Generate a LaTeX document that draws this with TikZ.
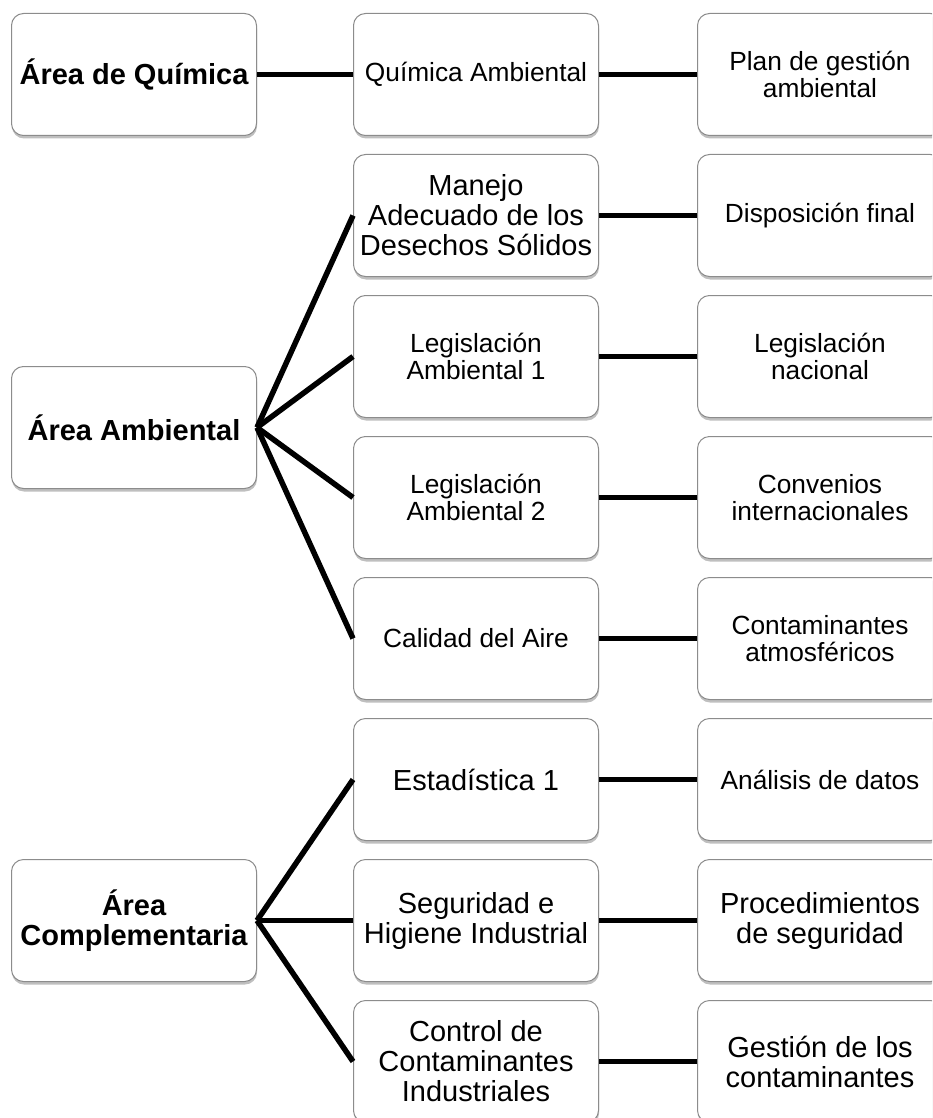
\documentclass[tikz,border=0pt]{standalone}
\usepackage{fontspec}
\setmainfont{Liberation Sans}
\usetikzlibrary{shadows}
\definecolor{boxline}{RGB}{140,140,140}
\newcommand\txtsmall{\fontsize{26.3}{27}\selectfont}
\newcommand\txtbig{\fontsize{29}{30}\selectfont}
\newcommand\txtbold{\fontsize{29}{30}\selectfont\bfseries}
\begin{document}
\begin{tikzpicture}[x=1pt,y=-1pt,
  box/.style={draw=boxline, line width=1pt, fill=white, rounded corners=12pt,
    minimum width=245pt, minimum height=122pt, anchor=north west,
    align=center, inner sep=0pt,
    drop shadow={shadow xshift=0.5pt, shadow yshift=-3pt, fill=black, opacity=0.25}},
  small/.style={box, font=\txtsmall},
  big/.style={box, font=\txtbig},
  head/.style={box, font=\txtbold},
  conn/.style={line width=5.5pt, black}]
\useasboundingbox (0,0) rectangle (932,1118);
\begin{scope}
\clip (0,0) rectangle (932,1118);

% left column: areas
\node[head] (q0) at (11,13)  {Área de Química};
\node[head] (a0) at (11,366) {Área Ambiental};
\node[head] (c0) at (11,859) {Área\\Complementaria};

% middle column: courses
\node[small] (q1) at (353,13)   {Química Ambiental};
\node[big]   (a1) at (353,154)  {Manejo\\Adecuado de los\\Desechos Sólidos};
\node[small] (a2) at (353,295)  {Legislación\\Ambiental 1};
\node[small] (a3) at (353,436)  {Legislación\\Ambiental 2};
\node[small] (a4) at (353,577)  {Calidad del Aire};
\node[big]   (c1) at (353,718)  {Estadística 1};
\node[big]   (c2) at (353,859)  {Seguridad e\\Higiene Industrial};
\node[big]   (c3) at (353,1000) {Control de\\Contaminantes\\Industriales};

% right column: topics
\node[small] (q2) at (697,13)   {Plan de gestión\\ambiental};
\node[small] (b1) at (697,154)  {Disposición final};
\node[small] (b2) at (697,295)  {Legislación\\nacional};
\node[small] (b3) at (697,436)  {Convenios\\internacionales};
\node[small] (b4) at (697,577)  {Contaminantes\\atmosféricos};
\node[small] (d1) at (697,718)  {Análisis de datos};
\node[big]   (d2) at (697,859)  {Procedimientos\\de seguridad};
\node[big]   (d3) at (697,1000) {Gestión de los\\contaminantes};

% connectors
\draw[conn] (q0.east) -- (q1.west);
\foreach \m in {a1,a2,a3,a4} \draw[conn] (a0.east) -- (\m.west);
\foreach \m in {c1,c2,c3} \draw[conn] (c0.east) -- (\m.west);
\draw[conn] (q1.east) -- (q2.west);
\draw[conn] (a1.east) -- (b1.west);
\draw[conn] (a2.east) -- (b2.west);
\draw[conn] (a3.east) -- (b3.west);
\draw[conn] (a4.east) -- (b4.west);
\draw[conn] (c1.east) -- (d1.west);
\draw[conn] (c2.east) -- (d2.west);
\draw[conn] (c3.east) -- (d3.west);
\end{scope}
\end{tikzpicture}
\end{document}
